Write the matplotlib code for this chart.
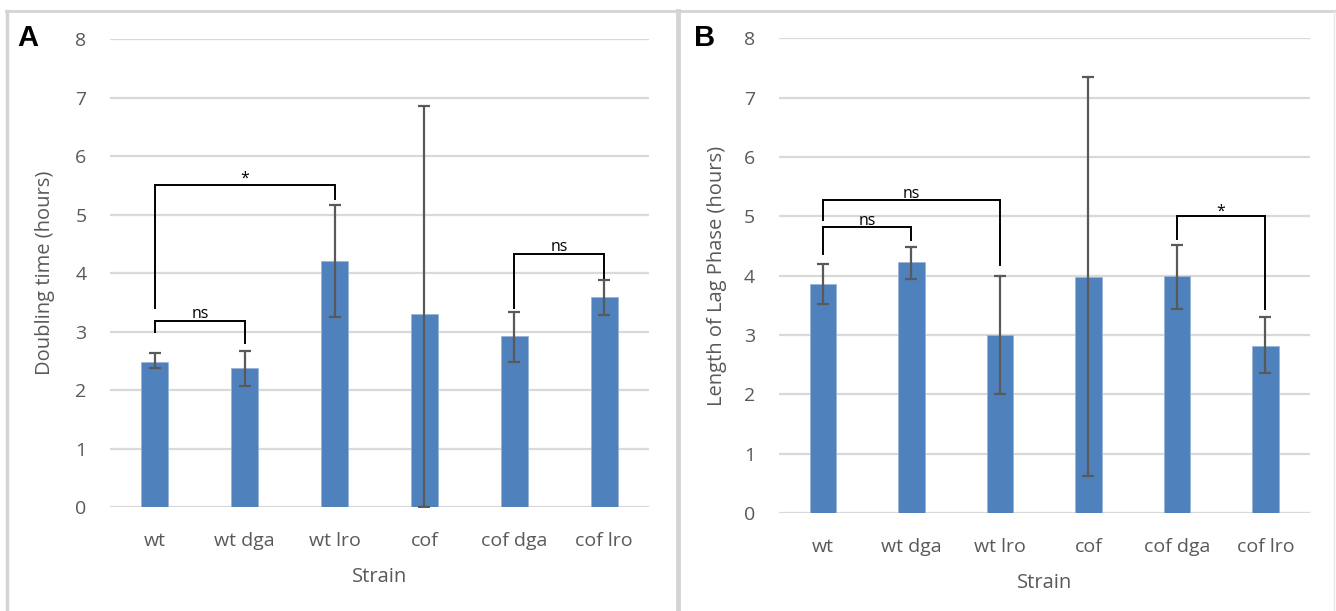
import matplotlib
matplotlib.use("Agg")
import matplotlib.pyplot as plt
from matplotlib.lines import Line2D
import numpy as np

plt.rcParams['font.family'] = ['Open Sans', 'DejaVu Sans']

strains = ["wt", "wt dga", "wt lro", "cof", "cof dga", "cof lro"]

# Panel A: doubling time
dt_mean = [2.48, 2.38, 4.21, 3.31, 2.92, 3.59]
dt_low = [2.38, 2.08, 3.25, 0.0, 2.49, 3.29]
dt_high = [2.63, 2.67, 5.16, 6.85, 3.33, 3.89]

# Panel B: lag phase
lag_mean = [3.85, 4.22, 3.00, 3.97, 3.99, 2.82]
lag_low = [3.52, 3.95, 2.00, 0.62, 3.44, 2.35]
lag_high = [4.20, 4.48, 4.00, 7.34, 4.52, 3.30]

# brackets: (i, j, left_bottom, top, right_bottom, label, label_y)
brackets_A = [
    (0, 2, 3.41, 5.50, 5.27, "*", 5.62),
    (0, 1, 3.00, 3.19, 2.81, "ns", 3.30),
    (4, 5, 3.41, 4.33, 3.92, "ns", 4.44),
]
brackets_B = [
    (0, 1, 4.37, 4.82, 4.60, "ns", 4.92),
    (0, 2, 4.93, 5.27, 4.18, "ns", 5.38),
    (4, 5, 4.62, 5.00, 3.44, "*", 5.07),
]

W, H = 1336, 611
fig = plt.figure(figsize=(W / 100, H / 100), dpi=100)
fig.patch.set_facecolor("white")

bar_color = "#4f81bd"
grid_color = "#d9d9d9"
text_grey = "#595959"


def panel(rect, means, lows, highs, brackets, ylabel, letter, letter_xy, ylabel_x):
    ax = fig.add_axes(rect)
    x = np.arange(len(strains))
    means = np.array(means)
    yerr = np.array([means - np.array(lows), np.array(highs) - means])
    ax.set_xlim(-0.5, len(strains) - 0.5)
    ax.set_ylim(0, 8)
    ax.set_yticks(range(0, 9))
    for v in range(0, 9):
        ax.axhline(v, color=grid_color, lw=1.6, zorder=0)
    ax.bar(x, means, width=0.3, color=bar_color, zorder=2,
           edgecolor="#9bb5d8", linewidth=0.6)
    ax.errorbar(x, means, yerr=yerr, fmt="none", ecolor="#595959",
                elinewidth=1.6, capsize=4.5, capthick=1.6, zorder=3)
    for (i, j, lb, top, rb, lab, ly) in brackets:
        ax.plot([i, i, j, j], [lb, top, top, rb], color="black", lw=1.4,
                zorder=4, solid_joinstyle="miter")
        ax.text((i + j) / 2, ly, lab, ha="center", va="center",
                fontsize=11.5, color="black")
    for s in ax.spines.values():
        s.set_visible(False)
    ax.tick_params(length=0, labelsize=14, labelcolor=text_grey)
    ax.tick_params(axis="y", pad=17)
    ax.tick_params(axis="x", pad=18)
    ax.set_xticks(x)
    ax.set_xticklabels(strains)
    ax.set_xlabel("Strain", fontsize=14.5, color=text_grey, labelpad=12)
    ax.set_ylabel(ylabel, fontsize=14.5, color=text_grey)
    ycenter = rect[1] + rect[3] / 2
    ax.yaxis.set_label_coords(ylabel_x, ycenter, transform=fig.transFigure)
    fig.text(letter_xy[0] / W, 1 - letter_xy[1] / H, letter, fontsize=21,
             fontweight="bold", family="Liberation Sans", ha="center", va="center")
    return ax


panel([110 / W, 1 - 507.4 / H, 539 / W, 468.4 / H], dt_mean, dt_low, dt_high,
      brackets_A, "Doubling time (hours)", "A", (28, 38), 55 / W)
panel([778.6 / W, 1 - 512.9 / H, 531.1 / W, 474.7 / H], lag_mean, lag_low, lag_high,
      brackets_B, "Length of Lag Phase (hours)", "B", (705, 38), 727 / W)

# panel borders
bc = "#d4d4d4"
fig.add_artist(Line2D([6 / W, 1], [1 - 11 / H, 1 - 11 / H], color=bc, lw=2))
fig.add_artist(Line2D([7 / W, 7 / W], [0, 1 - 11 / H], color=bc, lw=2.5))
fig.add_artist(Line2D([678 / W, 678 / W], [0, 1 - 11 / H], color=bc, lw=3.5))
fig.add_artist(Line2D([1334 / W, 1334 / W], [0, 1 - 11 / H], color="#e6e6e6", lw=1))

fig.savefig("out.png", dpi=100)
